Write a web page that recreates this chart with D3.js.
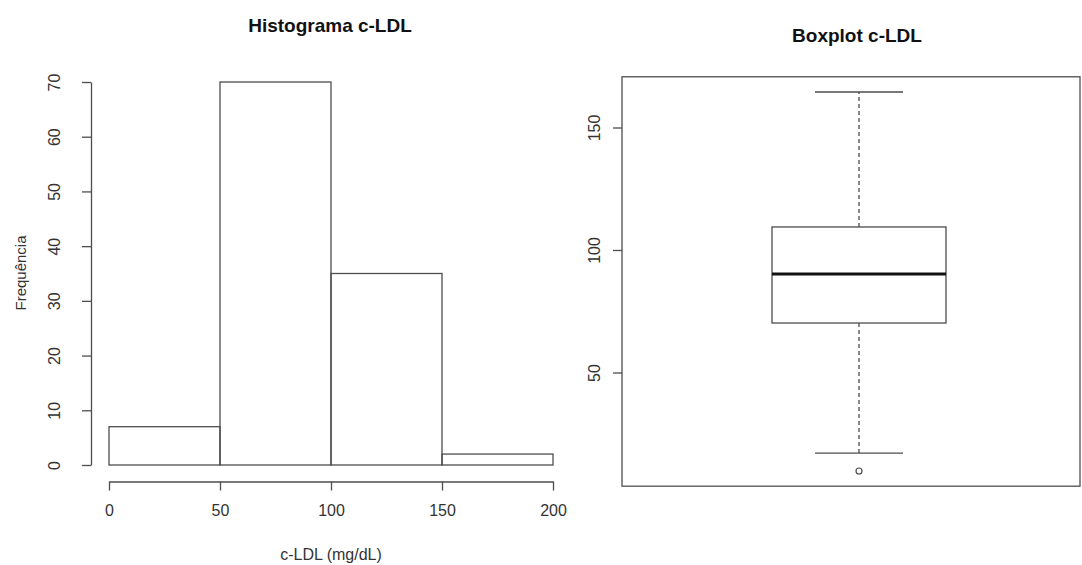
<!DOCTYPE html>
<meta charset="utf-8">
<head>
<style>
  body { margin: 0; background: #fff; font-family: "Liberation Sans", Arial, sans-serif; }
  svg text { fill: #333; }
  .title { font-weight: bold; fill: #111; }
</style>
</head>
<body>
<svg id="chart" width="1082" height="565"></svg>
<script src="https://d3js.org/d3.v7.min.js"></script>
<script>

// ---- data ----
var binEdges = [0, 50, 100, 150, 200];
var binCounts = [7, 70, 35, 2];
var histXTicks = [0, 50, 100, 150, 200];
var histYTicks = [0, 10, 20, 30, 40, 50, 60, 70];

// boxplot: lower whisker, Q1, median, Q3, upper whisker
var boxStats = [17.1, 70.2, 90.2, 109.4, 164.5];
var boxOutliers = [9.8];
var boxYTicks = [50, 100, 150];

var svg = d3.select("#chart");
var lineCol = "#4d4d4d";

// ================= Histogram =================
var x = d3.scaleLinear().domain([0, 200]).range([109, 553]);
var y = d3.scaleLinear().domain([0, 70]).range([465, 82]);

var bins = binCounts.map(function(c, i) { return { x0: binEdges[i], x1: binEdges[i + 1], n: c }; });

svg.append("g")
  .selectAll("rect")
  .data(bins)
  .enter()
  .append("rect")
    .attr("x", function(d) { return x(d.x0); })
    .attr("y", function(d) { return y(d.n); })
    .attr("width", function(d) { return x(d.x1) - x(d.x0); })
    .attr("height", function(d) { return y(0) - y(d.n); })
    .attr("fill", "none")
    .attr("stroke", lineCol)
    .attr("stroke-width", 1.3);

// x axis (drawn a bit below zero, like R)
var xAxis = svg.append("g")
  .attr("transform", "translate(0,481.5)")
  .call(d3.axisBottom(x).tickValues(histXTicks).tickSize(9).tickSizeOuter(0).tickPadding(14));

// y axis
var yAxis = svg.append("g")
  .attr("transform", "translate(91,0)")
  .call(d3.axisLeft(y).tickValues(histYTicks).tickSize(9).tickSizeOuter(0).tickFormat(function(d) { return d; }));

[xAxis, yAxis].forEach(function(a) {
  a.selectAll("path, line").attr("stroke", lineCol).attr("stroke-width", 1.3);
  a.selectAll("text").style("font-size", "16px").attr("fill", "#333");
});

// rotate y labels like R (las = 0)
yAxis.selectAll(".tick text")
  .attr("x", null).attr("dy", null)
  .attr("text-anchor", "middle")
  .attr("dominant-baseline", "central")
  .attr("transform", "translate(-37,0) rotate(-90)");

svg.append("text").attr("class", "title")
  .attr("x", 330).attr("y", 32)
  .attr("text-anchor", "middle")
  .style("font-size", "19px")
  .text("Histograma c-LDL");

svg.append("text")
  .attr("x", 331).attr("y", 560)
  .attr("text-anchor", "middle")
  .style("font-size", "16px")
  .text("c-LDL (mg/dL)");

svg.append("text")
  .attr("transform", "translate(20,273) rotate(-90)")
  .attr("text-anchor", "middle")
  .attr("dominant-baseline", "central")
  .style("font-size", "15px")
  .text("Frequência");

// ================= Boxplot =================
var by = d3.scaleLinear().domain([100, 150]).range([250, 127.5]);
var frame = { left: 622, right: 1080, top: by(170.7), bottom: by(3.6) };
var cx = 859, halfBox = 87, halfCap = 44;

svg.append("rect")
  .attr("x", frame.left).attr("y", frame.top)
  .attr("width", frame.right - frame.left).attr("height", frame.bottom - frame.top)
  .attr("fill", "none").attr("stroke", lineCol).attr("stroke-width", 1.3);

var byAxis = svg.append("g")
  .attr("transform", "translate(" + frame.left + ",0)")
  .call(d3.axisLeft(by).tickValues(boxYTicks).tickSize(9).tickSizeOuter(0));
byAxis.select(".domain").remove();
byAxis.selectAll("line").attr("stroke", lineCol).attr("stroke-width", 1.3);
byAxis.selectAll(".tick text")
  .style("font-size", "16px").attr("fill", "#333")
  .attr("x", null).attr("dy", null)
  .attr("text-anchor", "middle")
  .attr("dominant-baseline", "central")
  .attr("transform", "translate(-28,0) rotate(-90)");

var g = svg.append("g");

// whiskers
[[boxStats[0], boxStats[1]], [boxStats[3], boxStats[4]]].forEach(function(w) {
  g.append("line")
    .attr("x1", cx).attr("x2", cx)
    .attr("y1", by(w[0])).attr("y2", by(w[1]))
    .attr("stroke", lineCol).attr("stroke-width", 1.3)
    .attr("stroke-dasharray", "4,3");
});
// caps
[boxStats[0], boxStats[4]].forEach(function(v) {
  g.append("line")
    .attr("x1", cx - halfCap).attr("x2", cx + halfCap)
    .attr("y1", by(v)).attr("y2", by(v))
    .attr("stroke", lineCol).attr("stroke-width", 1.3);
});
// box
g.append("rect")
  .attr("x", cx - halfBox).attr("y", by(boxStats[3]))
  .attr("width", halfBox * 2).attr("height", by(boxStats[1]) - by(boxStats[3]))
  .attr("fill", "#fff").attr("stroke", lineCol).attr("stroke-width", 1.3);
// median
g.append("line")
  .attr("x1", cx - halfBox).attr("x2", cx + halfBox)
  .attr("y1", by(boxStats[2])).attr("y2", by(boxStats[2]))
  .attr("stroke", "#111").attr("stroke-width", 3);
// outliers
g.selectAll("circle")
  .data(boxOutliers)
  .enter()
  .append("circle")
    .attr("cx", cx).attr("cy", function(d) { return by(d); })
    .attr("r", 3)
    .attr("fill", "none").attr("stroke", lineCol).attr("stroke-width", 1.2);

svg.append("text").attr("class", "title")
  .attr("x", 857).attr("y", 42)
  .attr("text-anchor", "middle")
  .style("font-size", "19px")
  .text("Boxplot c-LDL");

</script>
</body>
